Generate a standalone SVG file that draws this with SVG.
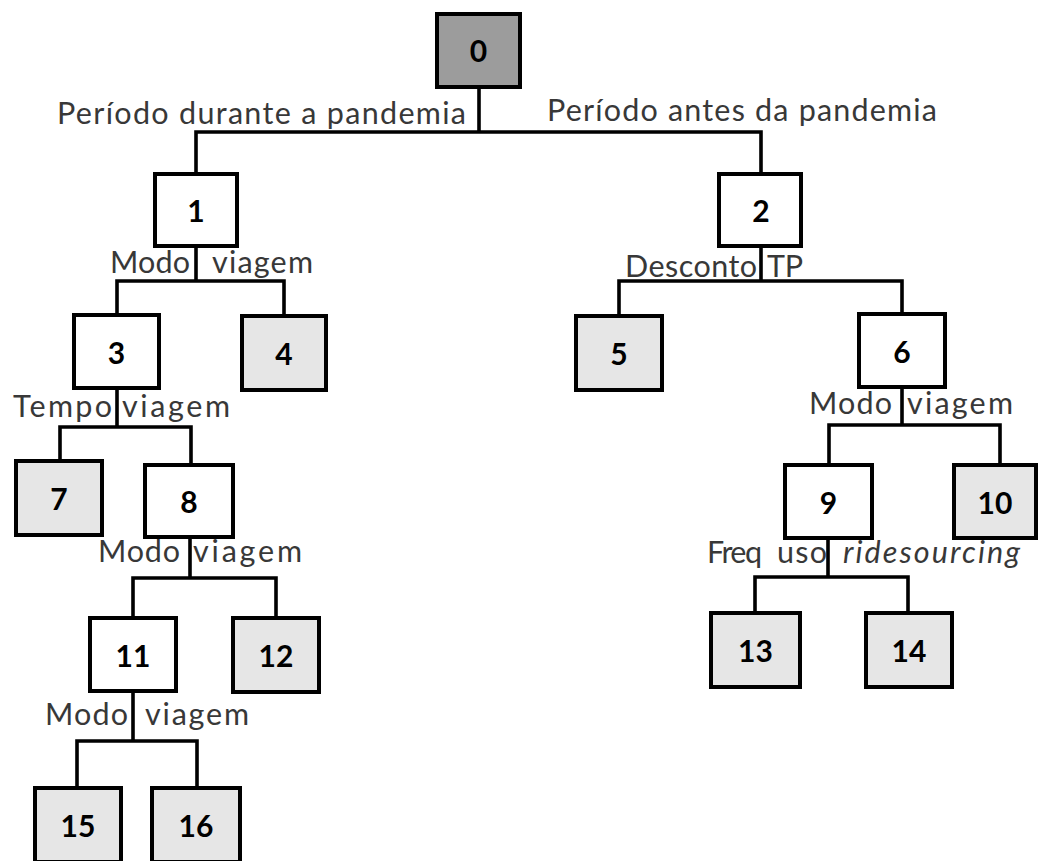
<svg xmlns="http://www.w3.org/2000/svg" width="1040" height="861" viewBox="0 0 1040 861">
<style>
.box{stroke:#000;stroke-width:4}
.root{fill:#9c9c9c}
.inner{fill:#fff}
.leaf{fill:#e6e6e6}
.num{font-family:Lato,"Open Sans",sans-serif;font-weight:bold;font-size:30px;fill:#000;text-anchor:middle}
.lbl{font-family:Lato,"Open Sans",sans-serif;font-size:30.5px;fill:#383838}
.conn{fill:none;stroke:#000;stroke-width:3.6;stroke-linecap:square}
</style>
<rect width="1040" height="861" fill="#fff"/>
<g id="connectors" class="conn">
<path d="M479,89 V132 M196,132 H761 M196,132 V172 M761,132 V172"/>
<path d="M196,248 V281 M117,281 H284 M117,281 V313 M284,281 V314"/>
<path d="M117,390 V427 M60,427 H191 M60,427 V459 M191,427 V463"/>
<path d="M190,539 V578 M133,578 H276 M133,578 V616 M276,578 V616"/>
<path d="M133,693 V741 M77,741 H197 M77,741 V786 M197,741 V786"/>
<path d="M761,248 V281 M619,281 H902 M619,281 V314 M902,281 V312"/>
<path d="M902,389 V425 M829,425 H1000 M829,425 V463 M1000,425 V463"/>
<path d="M828,540 V577 M755,577 H908 M755,577 V611 M908,577 V611"/>
</g>
<g id="labels" class="lbl">
<text x="57" y="124" textLength="409" lengthAdjust="spacing">Período durante a pandemia</text>
<text x="547" y="121" textLength="390" lengthAdjust="spacing">Período antes da pandemia</text>
<text y="273"><tspan x="110" textLength="80">Modo</tspan><tspan x="212" textLength="101">viagem</tspan></text>
<text y="417"><tspan x="13" textLength="99">Tempo</tspan><tspan x="122" textLength="108">viagem</tspan></text>
<text y="562"><tspan x="98" textLength="82">Modo</tspan><tspan x="193" textLength="109">viagem</tspan></text>
<text y="725"><tspan x="45" textLength="83">Modo</tspan><tspan x="145" textLength="104">viagem</tspan></text>
<text y="277"><tspan x="625" textLength="132">Desconto</tspan><tspan x="767" textLength="36">TP</tspan></text>
<text y="414"><tspan x="809" textLength="83">Modo</tspan><tspan x="907" textLength="106">viagem</tspan></text>
<text y="563"><tspan x="707" textLength="55">Freq</tspan><tspan x="777" textLength="50">uso</tspan><tspan x="843" textLength="177" font-style="italic">ridesourcing</tspan></text>
</g>
<g id="node0"><rect class="box root" x="437" y="14" width="83" height="73"/><text class="num" x="478.5" y="62">0</text></g>
<g id="node1"><rect class="box inner" x="155" y="174" width="82" height="72"/><text class="num" x="196" y="222">1</text></g>
<g id="node2"><rect class="box inner" x="719" y="174" width="82" height="72"/><text class="num" x="761" y="222">2</text></g>
<g id="node3"><rect class="box inner" x="74" y="315" width="85" height="73"/><text class="num" x="116.5" y="364">3</text></g>
<g id="node4"><rect class="box leaf" x="242" y="316" width="84" height="74"/><text class="num" x="284" y="365">4</text></g>
<g id="node5"><rect class="box leaf" x="576" y="316" width="86" height="74"/><text class="num" x="619" y="365">5</text></g>
<g id="node6"><rect class="box inner" x="859" y="314" width="86" height="73"/><text class="num" x="902" y="363">6</text></g>
<g id="node7"><rect class="box leaf" x="16" y="461" width="86" height="74"/><text class="num" x="59" y="510">7</text></g>
<g id="node8"><rect class="box inner" x="145" y="465" width="88" height="72"/><text class="num" x="189" y="513">8</text></g>
<g id="node9"><rect class="box inner" x="785" y="465" width="87" height="73"/><text class="num" x="828.5" y="514">9</text></g>
<g id="node10"><rect class="box leaf" x="954" y="465" width="82" height="73"/><text class="num" x="995" y="514">10</text></g>
<g id="node11"><rect class="box inner" x="90" y="618" width="86" height="73"/><text class="num" x="133" y="667">11</text></g>
<g id="node12"><rect class="box leaf" x="233" y="618" width="86" height="74"/><text class="num" x="276" y="667">12</text></g>
<g id="node13"><rect class="box leaf" x="711" y="613" width="89" height="74"/><text class="num" x="755.5" y="662">13</text></g>
<g id="node14"><rect class="box leaf" x="866" y="613" width="86" height="74"/><text class="num" x="909" y="662">14</text></g>
<g id="node15"><rect class="box leaf" x="35" y="788" width="86" height="74"/><text class="num" x="78" y="837">15</text></g>
<g id="node16"><rect class="box leaf" x="152" y="788" width="88" height="74"/><text class="num" x="196" y="837">16</text></g>
</svg>
